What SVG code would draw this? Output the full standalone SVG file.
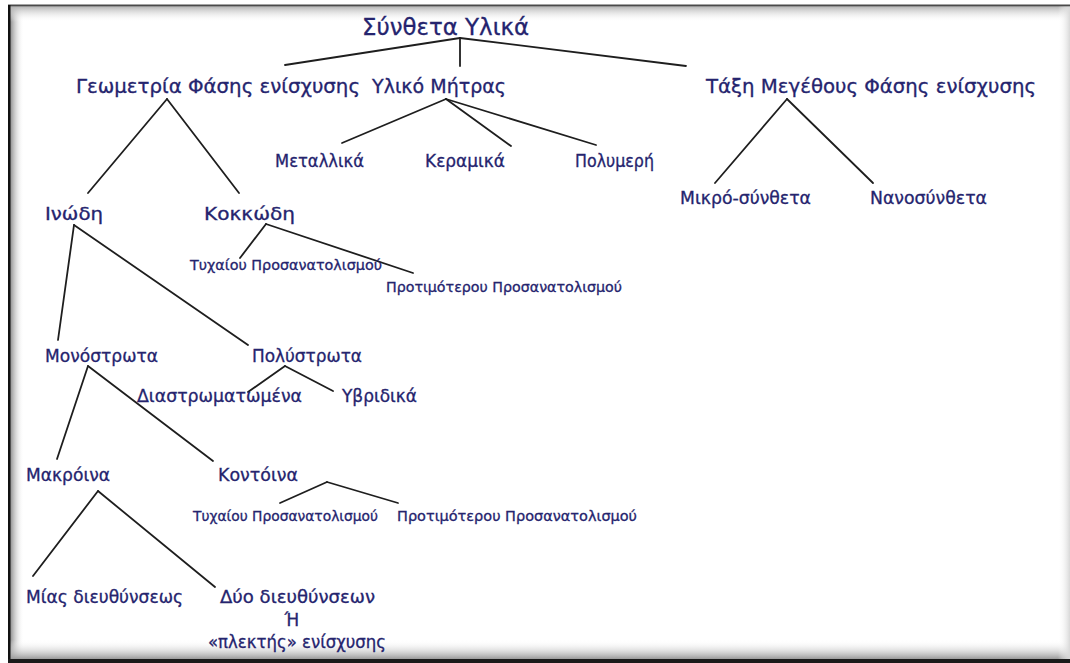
<svg xmlns="http://www.w3.org/2000/svg" width="1070" height="663" viewBox="0 0 1070 663">
<defs>
<linearGradient id="gL" x1="0" y1="0" x2="1" y2="0"><stop offset="0" stop-color="#8a8a8a"/><stop offset="1" stop-color="#ffffff" stop-opacity="0"/></linearGradient>
<linearGradient id="gT" x1="0" y1="0" x2="0" y2="1"><stop offset="0" stop-color="#b0b0b0"/><stop offset="1" stop-color="#ffffff" stop-opacity="0"/></linearGradient>
<linearGradient id="gB" x1="0" y1="0" x2="0" y2="1"><stop offset="0" stop-color="#ffffff" stop-opacity="0"/><stop offset="1" stop-color="#9a9a9a"/></linearGradient>
<linearGradient id="gR" x1="0" y1="0" x2="1" y2="0"><stop offset="0" stop-color="#ffffff" stop-opacity="0"/><stop offset="1" stop-color="#d8d8d8"/></linearGradient>
<style>
text{font-family:"DejaVu Sans","Liberation Sans",sans-serif;fill:#25246e;stroke:#25246e;stroke-width:0.3;}
.t0{font-size:23px;}
.t1{font-size:19px;}
.t2{font-size:17px;}
.t3{font-size:14px;}
.edges line{stroke:#1e1e1e;stroke-width:1.8;stroke-linecap:round;}
</style>
</defs>
<rect x="0" y="0" width="1070" height="663" fill="#ffffff"/>
<g id="frame">
<rect x="8" y="5" width="1062" height="656" fill="#ffffff"/>
<rect x="10" y="6" width="14" height="654" fill="url(#gL)"/>
<rect x="10" y="6" width="1060" height="16" fill="url(#gT)"/>
<rect x="10" y="640" width="1060" height="19" fill="url(#gB)"/>
<rect x="1058" y="6" width="12" height="654" fill="url(#gR)"/>
<rect x="8" y="4.5" width="1062" height="1.8" fill="#4a4a4a"/>
<rect x="8" y="5" width="2.5" height="656" fill="#111111"/>
<rect x="8" y="659" width="1062" height="4" fill="#1a1a1a"/>
</g>
<g class="edges" id="connectors">
<line x1="460" y1="38" x2="285" y2="65"/>
<line x1="460" y1="38" x2="460" y2="66"/>
<line x1="460" y1="38" x2="686" y2="66"/>
<line x1="167" y1="99" x2="88" y2="193"/>
<line x1="167" y1="99" x2="239" y2="193"/>
<line x1="446" y1="99" x2="342" y2="143"/>
<line x1="446" y1="99" x2="511" y2="146"/>
<line x1="446" y1="99" x2="596" y2="145"/>
<line x1="787" y1="99" x2="715" y2="183"/>
<line x1="787" y1="99" x2="873" y2="183"/>
<line x1="74" y1="225" x2="58" y2="340"/>
<line x1="74" y1="225" x2="248" y2="345"/>
<line x1="266" y1="224" x2="240" y2="258"/>
<line x1="266" y1="224" x2="413" y2="273"/>
<line x1="88" y1="366" x2="57" y2="459"/>
<line x1="88" y1="366" x2="213" y2="461"/>
<line x1="285" y1="366" x2="248" y2="392"/>
<line x1="285" y1="366" x2="333" y2="391"/>
<line x1="98" y1="491" x2="33" y2="576"/>
<line x1="98" y1="491" x2="215" y2="587"/>
<line x1="327" y1="482" x2="280" y2="503"/>
<line x1="327" y1="482" x2="398" y2="503"/>
</g>
<g id="n-root"><text class="t0" x="362" y="35" textLength="167" lengthAdjust="spacingAndGlyphs">Σύνθετα Υλικά</text></g>
<g id="n-geometry"><text class="t1" x="76" y="93" textLength="284" lengthAdjust="spacingAndGlyphs">Γεωμετρία Φάσης ενίσχυσης</text></g>
<g id="n-matrix"><text class="t1" x="372" y="93" textLength="134" lengthAdjust="spacingAndGlyphs">Υλικό Μήτρας</text></g>
<g id="n-size"><text class="t1" x="706" y="93" textLength="330" lengthAdjust="spacingAndGlyphs">Τάξη Μεγέθους Φάσης ενίσχυσης</text></g>
<g id="n-metal"><text class="t2" x="275" y="167" textLength="89" lengthAdjust="spacingAndGlyphs">Μεταλλικά</text></g>
<g id="n-ceramic"><text class="t2" x="425" y="167" textLength="80" lengthAdjust="spacingAndGlyphs">Κεραμικά</text></g>
<g id="n-polymer"><text class="t2" x="575" y="167" textLength="79" lengthAdjust="spacingAndGlyphs">Πολυμερή</text></g>
<g id="n-micro"><text class="t2" x="680" y="204" textLength="131" lengthAdjust="spacingAndGlyphs">Μικρό-σύνθετα</text></g>
<g id="n-nano"><text class="t2" x="870" y="204" textLength="117" lengthAdjust="spacingAndGlyphs">Νανοσύνθετα</text></g>
<g id="n-fibrous"><text class="t2" x="45" y="220" textLength="58" lengthAdjust="spacingAndGlyphs">Ινώδη</text></g>
<g id="n-particulate"><text class="t2" x="204" y="220" textLength="91" lengthAdjust="spacingAndGlyphs">Κοκκώδη</text></g>
<g id="n-random1"><text class="t3" x="190" y="270" textLength="192" lengthAdjust="spacingAndGlyphs">Τυχαίου Προσανατολισμού</text></g>
<g id="n-preferred1"><text class="t3" x="386" y="292" textLength="236" lengthAdjust="spacingAndGlyphs">Προτιμότερου Προσανατολισμού</text></g>
<g id="n-single"><text class="t2" x="45" y="362" textLength="113" lengthAdjust="spacingAndGlyphs">Μονόστρωτα</text></g>
<g id="n-multi"><text class="t2" x="252" y="362" textLength="110" lengthAdjust="spacingAndGlyphs">Πολύστρωτα</text></g>
<g id="n-laminated"><text class="t2" x="137" y="402" textLength="165" lengthAdjust="spacingAndGlyphs">Διαστρωματωμένα</text></g>
<g id="n-hybrid"><text class="t2" x="342" y="402" textLength="75" lengthAdjust="spacingAndGlyphs">Υβριδικά</text></g>
<g id="n-long"><text class="t2" x="26" y="481" textLength="84" lengthAdjust="spacingAndGlyphs">Μακρόινα</text></g>
<g id="n-short"><text class="t2" x="218" y="481" textLength="80" lengthAdjust="spacingAndGlyphs">Κοντόινα</text></g>
<g id="n-random2"><text class="t3" x="193" y="521" textLength="185" lengthAdjust="spacingAndGlyphs">Τυχαίου Προσανατολισμού</text></g>
<g id="n-preferred2"><text class="t3" x="397" y="521" textLength="240" lengthAdjust="spacingAndGlyphs">Προτιμότερου Προσανατολισμού</text></g>
<g id="n-unidirectional"><text class="t2" x="26" y="603" textLength="157" lengthAdjust="spacingAndGlyphs">Μίας διευθύνσεως</text></g>
<g id="n-bidirectional">
<text class="t2" x="220" y="603" textLength="155" lengthAdjust="spacingAndGlyphs">Δύο διευθύνσεων</text>
<text class="t2" x="292" y="626" text-anchor="middle">Ή</text>
<text class="t2" x="208" y="648" textLength="178" lengthAdjust="spacingAndGlyphs">«πλεκτής» ενίσχυσης</text>
</g>
</svg>
